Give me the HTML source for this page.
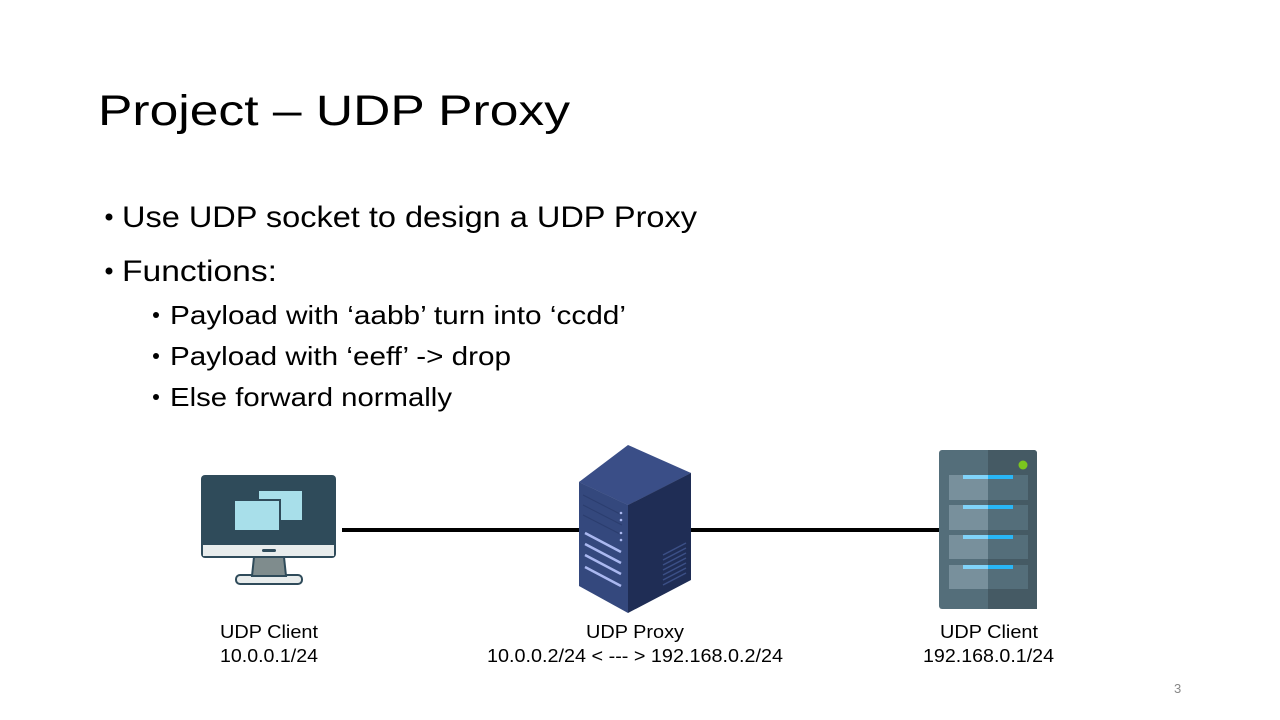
<!DOCTYPE html>
<html><head><meta charset="utf-8"><style>html,body{margin:0;padding:0;background:#fff}svg{display:block}</style></head>
<body>
<svg width="1280" height="720" viewBox="0 0 1280 720" xmlns="http://www.w3.org/2000/svg" font-family="Liberation Sans, sans-serif">
<rect width="1280" height="720" fill="#fff"/>
<text x="98" y="125" font-size="43" textLength="472" lengthAdjust="spacingAndGlyphs" fill="#000">Project – UDP Proxy</text>
<circle cx="109" cy="217" r="3.5" fill="#000"/>
<text x="122" y="227" font-size="30" textLength="575" lengthAdjust="spacingAndGlyphs">Use UDP socket to design a UDP Proxy</text>
<circle cx="109" cy="271" r="3.5" fill="#000"/>
<text x="122" y="281" font-size="30" textLength="155" lengthAdjust="spacingAndGlyphs">Functions:</text>
<circle cx="156" cy="315" r="3" fill="#000"/>
<text x="170" y="324" font-size="26" textLength="456" lengthAdjust="spacingAndGlyphs">Payload with ‘aabb’ turn into ‘ccdd’</text>
<circle cx="156" cy="356" r="3" fill="#000"/>
<text x="170" y="365" font-size="26" textLength="341" lengthAdjust="spacingAndGlyphs">Payload with ‘eeff’ -&gt; drop</text>
<circle cx="156" cy="397" r="3" fill="#000"/>
<text x="170" y="406" font-size="26" textLength="282" lengthAdjust="spacingAndGlyphs">Else forward normally</text>

<!-- lines -->
<rect x="342" y="528" width="240" height="4" fill="#000"/>
<rect x="689" y="528" width="252" height="4" fill="#000"/>

<!-- monitor -->
<rect x="236" y="575" width="66" height="9" rx="4" fill="#e8ecec" stroke="#2f4b5a" stroke-width="2"/>
<path d="M254 557 L284 557 L286 576 L252 576 Z" fill="#7f8c8d" stroke="#2f4b5a" stroke-width="2"/>
<rect x="201" y="475" width="135" height="83" rx="4" fill="#2f4b5a"/>
<rect x="203" y="545" width="131" height="11" fill="#e8ecec"/>
<rect x="262" y="549" width="14" height="3" rx="1.5" fill="#2f4b5a"/>
<rect x="259" y="491" width="43" height="29" fill="#a8dfea"/>
<rect x="233" y="499" width="48" height="33" fill="#2f4b5a"/>
<rect x="235" y="501" width="44" height="29" fill="#a8dfea"/>

<!-- isometric server -->
<polygon points="579,482 628,455 691,473 628,505" fill="#3b4f86"/>
<polygon points="628,445 691,473 628,505 579,482" fill="#3a4e87"/>
<polygon points="579,482 628,505 628,613 579,586" fill="#34487d"/>
<polygon points="628,505 691,473 691,580 628,613" fill="#1f2d55"/>
<g stroke="#aab8f0" stroke-width="2.5">
<line x1="585" y1="533" x2="621" y2="552"/>
<line x1="585" y1="544" x2="621" y2="563"/>
<line x1="585" y1="555" x2="621" y2="574"/>
<line x1="585" y1="567" x2="621" y2="586"/>
</g>
<g stroke="#2b3d6e" stroke-width="1">
<line x1="583" y1="495" x2="622" y2="515"/>
<line x1="583" y1="505" x2="622" y2="525"/>
<line x1="583" y1="515" x2="622" y2="535"/>
</g>
<g fill="#aab8f0"><circle cx="621" cy="513" r="1.3"/><circle cx="621" cy="520" r="1.3"/><circle cx="621" cy="533" r="1.3"/><circle cx="621" cy="540" r="1.3"/></g>
<g stroke="#3b4f86" stroke-width="1.5">
<line x1="663" y1="555" x2="686" y2="543"/><line x1="663" y1="560" x2="686" y2="548"/>
<line x1="663" y1="565" x2="686" y2="553"/><line x1="663" y1="570" x2="686" y2="558"/>
<line x1="663" y1="575" x2="686" y2="563"/><line x1="663" y1="580" x2="686" y2="568"/>
<line x1="663" y1="585" x2="686" y2="573"/>
</g>

<!-- right server -->
<rect x="939" y="450" width="98" height="159" rx="3" fill="#546e7a"/>
<path d="M988 450 H1034 a3 3 0 0 1 3 3 V609 H988 Z" fill="#455a64"/>
<circle cx="1023" cy="465" r="4.5" fill="#7cc61e"/>
<g>
<rect x="949" y="475" width="39" height="25" fill="#78909c"/><rect x="988" y="475" width="40" height="25" fill="#546e7a"/>
<rect x="949" y="505" width="39" height="25" fill="#78909c"/><rect x="988" y="505" width="40" height="25" fill="#546e7a"/>
<rect x="949" y="535" width="39" height="24" fill="#78909c"/><rect x="988" y="535" width="40" height="24" fill="#546e7a"/>
<rect x="949" y="565" width="39" height="24" fill="#78909c"/><rect x="988" y="565" width="40" height="24" fill="#546e7a"/>
</g>
<g>
<rect x="963" y="475" width="25" height="4" fill="#81d4fa"/><rect x="988" y="475" width="25" height="4" fill="#29b6f6"/>
<rect x="963" y="505" width="25" height="4" fill="#81d4fa"/><rect x="988" y="505" width="25" height="4" fill="#29b6f6"/>
<rect x="963" y="535" width="25" height="4" fill="#81d4fa"/><rect x="988" y="535" width="25" height="4" fill="#29b6f6"/>
<rect x="963" y="565" width="25" height="4" fill="#81d4fa"/><rect x="988" y="565" width="25" height="4" fill="#29b6f6"/>
</g>

<!-- labels -->
<g font-size="18" fill="#000">
<text x="220" y="638" textLength="98" lengthAdjust="spacingAndGlyphs">UDP Client</text>
<text x="220" y="662" textLength="98" lengthAdjust="spacingAndGlyphs">10.0.0.1/24</text>
<text x="586" y="638" textLength="98" lengthAdjust="spacingAndGlyphs">UDP Proxy</text>
<text x="487" y="662" textLength="296" lengthAdjust="spacingAndGlyphs">10.0.0.2/24 &lt; --- &gt; 192.168.0.2/24</text>
<text x="940" y="638" textLength="98" lengthAdjust="spacingAndGlyphs">UDP Client</text>
<text x="923" y="662" textLength="131" lengthAdjust="spacingAndGlyphs">192.168.0.1/24</text>
</g>
<text x="1174" y="693" font-size="13" fill="#888">3</text>
</svg>
</body></html>
